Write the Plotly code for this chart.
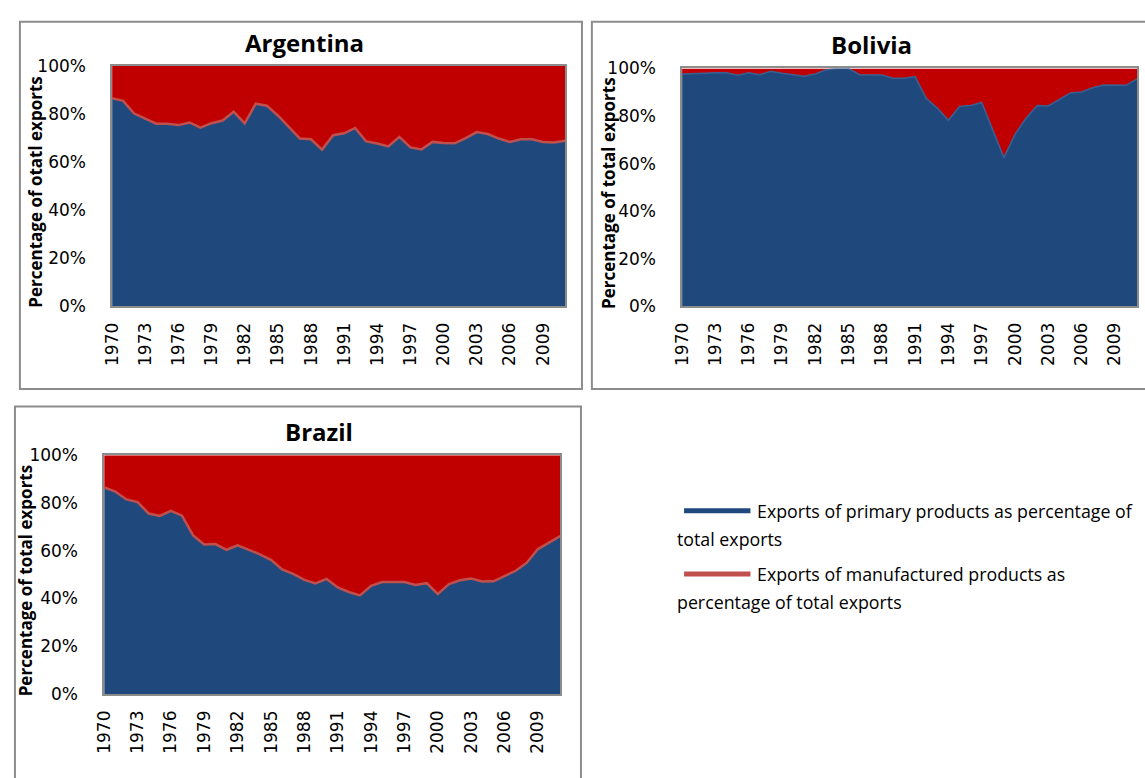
import plotly.graph_objects as go

W, H = 1145, 778

BLUE = "#1F497D"
RED_FILL = "#C00000"
RED_LINE = "#C0504D"
FRAME = "#8C8C8C"

years = list(range(1970, 2012))
tick_years = list(range(1970, 2010, 3))
pct_ticks = [0, 20, 40, 60, 80, 100]
pct_labels = ["0%", "20%", "40%", "60%", "80%", "100%"]

argentina_primary = [
    86.6, 85.5, 80.2, 78.2, 76.0, 76.0, 75.4, 76.5, 74.3, 76.2,
    77.3, 81.0, 76.1, 84.3, 83.5, 79.4, 74.6, 69.8, 69.5, 65.2,
    71.2, 72.0, 74.2, 68.6, 67.7, 66.5, 70.5, 66.1, 65.3, 68.4,
    67.9, 67.8, 70.0, 72.5, 71.7, 69.8, 68.4, 69.5, 69.5, 68.4,
    68.2, 68.9,
]
bolivia_primary = [
    97.7, 98.0, 98.0, 98.2, 98.2, 97.1, 98.2, 97.4, 98.8, 98.0,
    97.5, 96.7, 97.7, 99.5, 100.0, 100.0, 97.4, 97.4, 97.3, 95.9,
    95.9, 96.6, 87.4, 83.3, 78.2, 84.0, 84.4, 85.7, 73.7, 62.5,
    72.3, 79.1, 84.4, 84.2, 87.0, 89.7, 90.1, 91.9, 93.0, 93.1,
    92.9, 95.6,
]
brazil_primary = [
    86.5, 84.8, 81.5, 80.4, 75.6, 74.6, 76.7, 74.7, 66.4, 62.6,
    62.8, 60.4, 62.3, 60.4, 58.5, 56.2, 52.2, 50.3, 47.8, 46.3,
    48.2, 44.6, 42.7, 41.3, 45.3, 46.9, 46.9, 46.9, 45.7, 46.4,
    41.9, 46.0, 47.6, 48.4, 47.1, 47.2, 49.4, 51.6, 55.0, 60.7,
    63.4, 66.1,
]

legend_primary = "Exports of primary products as percentage of"
legend_primary_2 = "total exports"
legend_manuf = "Exports of manufactured products as"
legend_manuf_2 = "percentage of total exports"


def px_x(x):
    return x / W


def px_y(y):
    return 1 - y / H


# panel: name, data, y-title, plot box (px), frame box (px), boundary line colour
PANELS = [
    dict(name="Argentina", data=argentina_primary, ytitle="Percentage of otatl exports",
         plot=(103, 57.5, 560, 304), frame=(10, 12, 577, 389), title_xy=(297, 33),
         ytitle_x=26, edge=RED_LINE, edge_w=2.5),
    dict(name="Bolivia", data=bolivia_primary, ytitle="Percentage of total exports",
         plot=(678, 60, 1137, 304), frame=(587, 12, 1152, 389), title_xy=(869, 35),
         ytitle_x=603, edge="#3C5F91", edge_w=1.5),
    dict(name="Brazil", data=brazil_primary, ytitle="Percentage of total exports",
         plot=(95, 457, 555, 702), frame=(5, 407, 576, 790), title_xy=(312, 433),
         ytitle_x=16, edge=RED_LINE, edge_w=2.5),
]

TICK_FONT = dict(family="DejaVu Sans", size=17, color="#000000")
TEXT_FONT = "Open Sans"

fig = go.Figure()
shapes = []
annotations = []
layout_axes = {}

for i, p in enumerate(PANELS, start=1):
    xa = "x" if i == 1 else f"x{i}"
    ya = "y" if i == 1 else f"y{i}"
    manuf = [round(100 - v, 1) for v in p["data"]]

    fig.add_trace(go.Scatter(
        x=years, y=p["data"], xaxis=xa, yaxis=ya,
        stackgroup=f"s{i}", mode="lines",
        line=dict(color=p["edge"], width=p["edge_w"]),
        fillcolor=BLUE, showlegend=False, hoverinfo="skip",
    ))
    fig.add_trace(go.Scatter(
        x=years, y=manuf, xaxis=xa, yaxis=ya,
        stackgroup=f"s{i}", mode="lines",
        line=dict(color=RED_FILL, width=0),
        fillcolor=RED_FILL, showlegend=False, hoverinfo="skip",
    ))

    x0, y0, x1, y1 = p["plot"]
    key = "" if i == 1 else str(i)
    layout_axes[f"xaxis{key}"] = dict(
        domain=[px_x(x0), px_x(x1)], anchor=ya, range=[1970, 2011],
        tickvals=tick_years, ticktext=[str(t) for t in tick_years],
        tickangle=-90, ticks="", showgrid=False, zeroline=False,
        showline=True, mirror=True, linecolor=FRAME, linewidth=1.5,
        tickfont=TICK_FONT, ticklabelstandoff=8,
    )
    layout_axes[f"yaxis{key}"] = dict(
        domain=[px_y(y1), px_y(y0)], anchor=xa, range=[0, 100],
        tickvals=pct_ticks, ticktext=pct_labels, ticks="",
        showgrid=False, zeroline=False,
        showline=True, mirror=True, linecolor=FRAME, linewidth=1.5,
        tickfont=TICK_FONT, ticklabelstandoff=21,
    )

    fx0, fy0, fx1, fy1 = p["frame"]
    shapes.append(dict(
        type="rect", xref="paper", yref="paper",
        x0=px_x(fx0), x1=px_x(fx1), y0=px_y(fy1), y1=px_y(fy0),
        line=dict(color=FRAME, width=2), fillcolor="rgba(0,0,0,0)",
    ))

    tx, ty = p["title_xy"]
    annotations.append(dict(
        text=f"<b>{p['name']}</b>", xref="paper", yref="paper",
        x=px_x(tx), y=px_y(ty), showarrow=False,
        xanchor="center", yanchor="middle",
        font=dict(family=TEXT_FONT, size=24, color="#000000"),
    ))
    annotations.append(dict(
        text=f"<b>{p['ytitle']}</b>", xref="paper", yref="paper",
        x=px_x(p["ytitle_x"]), y=px_y((y0 + y1) / 2 + 6), showarrow=False,
        textangle=-90, xanchor="center", yanchor="middle",
        font=dict(family=TEXT_FONT, size=17, color="#000000"),
    ))

# legend drawn by hand so the text can wrap under the swatch
legend_rows = [
    (BLUE, legend_primary, legend_primary_2, 514),
    (RED_LINE, legend_manuf, legend_manuf_2, 579),
]
for colour, line1, line2, ly in legend_rows:
    shapes.append(dict(
        type="line", xref="paper", yref="paper",
        x0=px_x(680), x1=px_x(747), y0=px_y(ly), y1=px_y(ly),
        line=dict(color=colour, width=5),
    ))
    annotations.append(dict(
        text=line1, xref="paper", yref="paper", x=px_x(752), y=px_y(ly),
        showarrow=False, xanchor="left", yanchor="middle",
        font=dict(family=TEXT_FONT, size=17.8, color="#000000"),
    ))
    annotations.append(dict(
        text=line2, xref="paper", yref="paper", x=px_x(671), y=px_y(ly + 29),
        showarrow=False, xanchor="left", yanchor="middle",
        font=dict(family=TEXT_FONT, size=17.8, color="#000000"),
    ))

fig.update_layout(
    width=W, height=H,
    margin=dict(l=0, r=0, t=0, b=0),
    paper_bgcolor="white", plot_bgcolor="white",
    showlegend=False,
    shapes=shapes, annotations=annotations,
    **layout_axes,
)

# drop the browser's default body margin so the figure sits at the page origin
fig.write_html(
    "out.html",
    config={"displayModeBar": False},
    post_script="document.body.style.margin='0px';",
)
